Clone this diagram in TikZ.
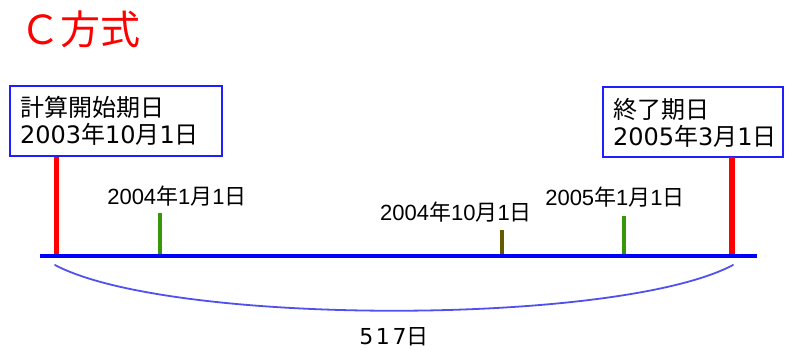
\documentclass[tikz,border=0pt]{standalone}
\usepackage{fontspec}
\setmainfont{DejaVu Sans}
\newfontfamily\jp{Noto Sans CJK JP}
\newfontfamily\lat{Liberation Sans}
\newcommand\J[1]{{\jp #1}}
\definecolor{boxblue}{RGB}{30,30,255}
\definecolor{linered}{RGB}{255,0,0}
\definecolor{tickgreen}{RGB}{55,150,10}
\definecolor{tickolive}{RGB}{100,90,0}
\definecolor{arcblue}{RGB}{80,80,240}
\tikzset{
  datebox/.style={draw=boxblue, line width=2pt, fill=white, align=left, inner xsep=10pt, inner ysep=0pt, minimum height=70pt, font=\fontsize{24}{27}\selectfont},
  redbar/.style={draw=linered, line width=5.5pt},
  greentick/.style={draw=tickgreen, line width=3.5pt},
  olivetick/.style={draw=tickolive, line width=3.5pt},
  datelabel/.style={inner sep=0pt, font=\lat\fontsize{22}{24}\selectfont},
}
\begin{document}
\begin{tikzpicture}[x=1pt,y=-1pt]
\useasboundingbox (0,0) rectangle (785,350);
% title
\node[anchor=west, inner sep=0pt, text=linered, font=\jp\fontsize{40}{42}\selectfont] (title) at (20,29) {Ｃ方式};
% baseline
\coordinate (bl) at (40,256);
\coordinate (br) at (757,256);
% boxes
\node[datebox, text width=192pt] (startbox) at (116,121) {\J{計算開始期日}\\2003\J{年}10\J{月}1\J{日}};
\node[datebox, text width=160pt] (endbox) at (693,122.5) {\J{終了期日}\\2005\J{年}3\J{月}1\J{日}};
% red bars
\coordinate (s1) at (56.5,157);
\coordinate (s2) at (56.5,255);
\coordinate (e1) at (732,157);
\coordinate (e2) at (732,255);
\draw[redbar] (s1) -- (s2);
\draw[redbar] (e1) -- (e2);
% ticks
\coordinate (t1a) at (160,213); \coordinate (t1b) at (160,255);
\coordinate (t2a) at (502,230); \coordinate (t2b) at (502,255);
\coordinate (t3a) at (624,216); \coordinate (t3b) at (624,255);
\draw[greentick] (t1a) -- (t1b);
\draw[olivetick] (t2a) -- (t2b);
\draw[greentick] (t3a) -- (t3b);
% baseline drawn on top
\draw[draw=blue, line width=3.5pt] (bl) -- (br);
% labels
\node[datelabel] (lab1) at (177,196) {2004\J{年}1\J{月}1\J{日}};
\node[datelabel] (lab2) at (456,212) {2004\J{年}10\J{月}1\J{日}};
\node[datelabel] (lab3) at (615,197) {2005\J{年}1\J{月}1\J{日}};
% span arc
\coordinate (a1) at (55,265);
\coordinate (a2) at (733,265);
\draw[draw=arcblue, line width=1.8pt, line cap=round] (a1) .. controls (170,326) and (618,326) .. (a2);
\node[inner sep=0pt, font=\addfontfeature{LetterSpace=12}\fontsize{22}{24}\selectfont] (days) at (394,337) {517\J{日}};
\end{tikzpicture}
\end{document}
